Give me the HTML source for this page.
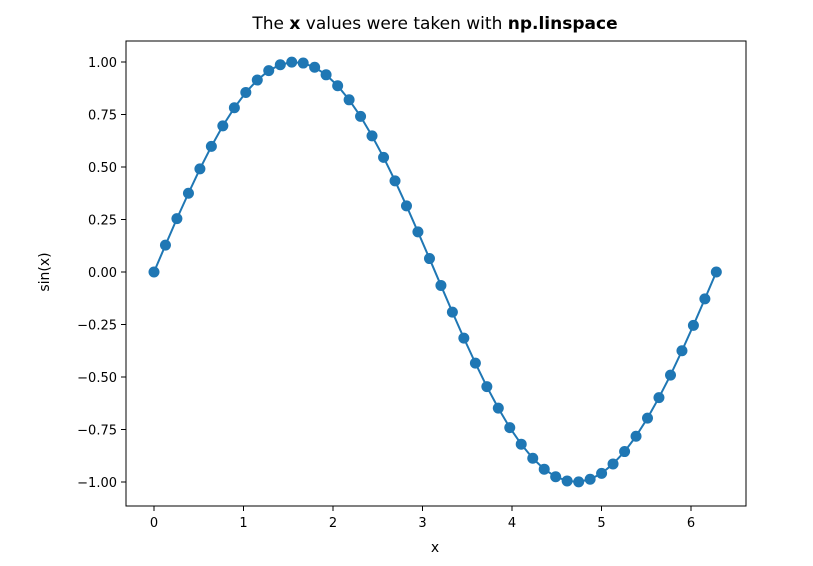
<!DOCTYPE html>
<html><head><meta charset="utf-8"><style>
body{margin:0;background:#fff;}
svg text{font-family:"DejaVu Sans","Liberation Sans",sans-serif;fill:#000;}
</style></head><body>
<svg id="chart" width="813" height="561" xmlns="http://www.w3.org/2000/svg">
<rect x="0" y="0" width="813" height="561" fill="#fff"/>
<text x="435" y="29" font-size="17" text-anchor="middle">The <tspan font-weight="bold">x</tspan> values were taken with <tspan font-weight="bold">np.</tspan><tspan font-weight="bold">linspace</tspan></text>
<g id="plot"></g>
<rect x="126" y="41" width="620" height="465" fill="none" stroke="#000" stroke-width="1"/>
<text x="435" y="552" font-size="14" text-anchor="middle">x</text>
<text x="0" y="0" font-size="14" text-anchor="middle" transform="translate(49,272) rotate(-90)">sin(x)</text>
</svg>
<script>
const xValues=[0,0.128,0.256,0.385,0.513,0.641,0.769,0.898,1.026,1.154,1.282,1.411,1.539,1.667,1.795,1.923,2.052,2.180,2.308,2.436,2.565,2.693,2.821,2.949,3.078,3.206,3.334,3.462,3.591,3.719,3.847,3.975,4.103,4.232,4.360,4.488,4.616,4.745,4.873,5.001,5.129,5.258,5.386,5.514,5.642,5.771,5.899,6.027,6.155,6.283];
const yValues=[0,0.128,0.254,0.375,0.491,0.598,0.696,0.782,0.855,0.914,0.959,0.987,0.9995,0.995,0.975,0.939,0.887,0.820,0.741,0.648,0.546,0.434,0.315,0.191,0.064,-0.064,-0.191,-0.315,-0.434,-0.546,-0.648,-0.741,-0.820,-0.887,-0.939,-0.975,-0.995,-0.9995,-0.987,-0.959,-0.914,-0.855,-0.782,-0.696,-0.598,-0.491,-0.375,-0.254,-0.128,0];
const xTicks=[0,1,2,3,4,5,6];
const yTicks=[-1,-0.75,-0.5,-0.25,0,0.25,0.5,0.75,1];
const yTickLabels=["\u22121.00","\u22120.75","\u22120.50","\u22120.25","0.00","0.25","0.50","0.75","1.00"];
function sx(v){return 154+v*89.5;}
function sy(v){return 272-v*210;}
const NS="http://www.w3.org/2000/svg";
const g=document.getElementById('plot');
function mk(t,a){const e=document.createElementNS(NS,t);for(const k in a)e.setAttribute(k,a[k]);g.appendChild(e);return e;}
xTicks.forEach(t=>{
  const l=mk('line',{x1:sx(t),x2:sx(t),y1:506,y2:511,stroke:'#000'});
  
  
  const tx=mk('text',{x:sx(t),y:527,'font-size':13,'text-anchor':'middle'});tx.textContent=t;
  
  
});
yTicks.forEach((t,i)=>{
  const l=mk('line',{x1:121,x2:126,y1:sy(t),y2:sy(t),stroke:'#000'});
  
  
  const tx=mk('text',{x:117,y:sy(t)+5,'font-size':13,'text-anchor':'end'});tx.textContent=yTickLabels[i];
  
  
});
const pts=xValues.map((x,i)=>sx(x)+','+sy(yValues[i])).join(' ');
const line=mk('polyline',{points:pts,fill:'none',stroke:'#1f77b4','stroke-width':2});


xValues.forEach((x,i)=>{
  const c=mk('circle',{cx:sx(x),cy:sy(yValues[i]),r:5.5,fill:'#1f77b4'});
  
  
});
</script>
</body></html>
